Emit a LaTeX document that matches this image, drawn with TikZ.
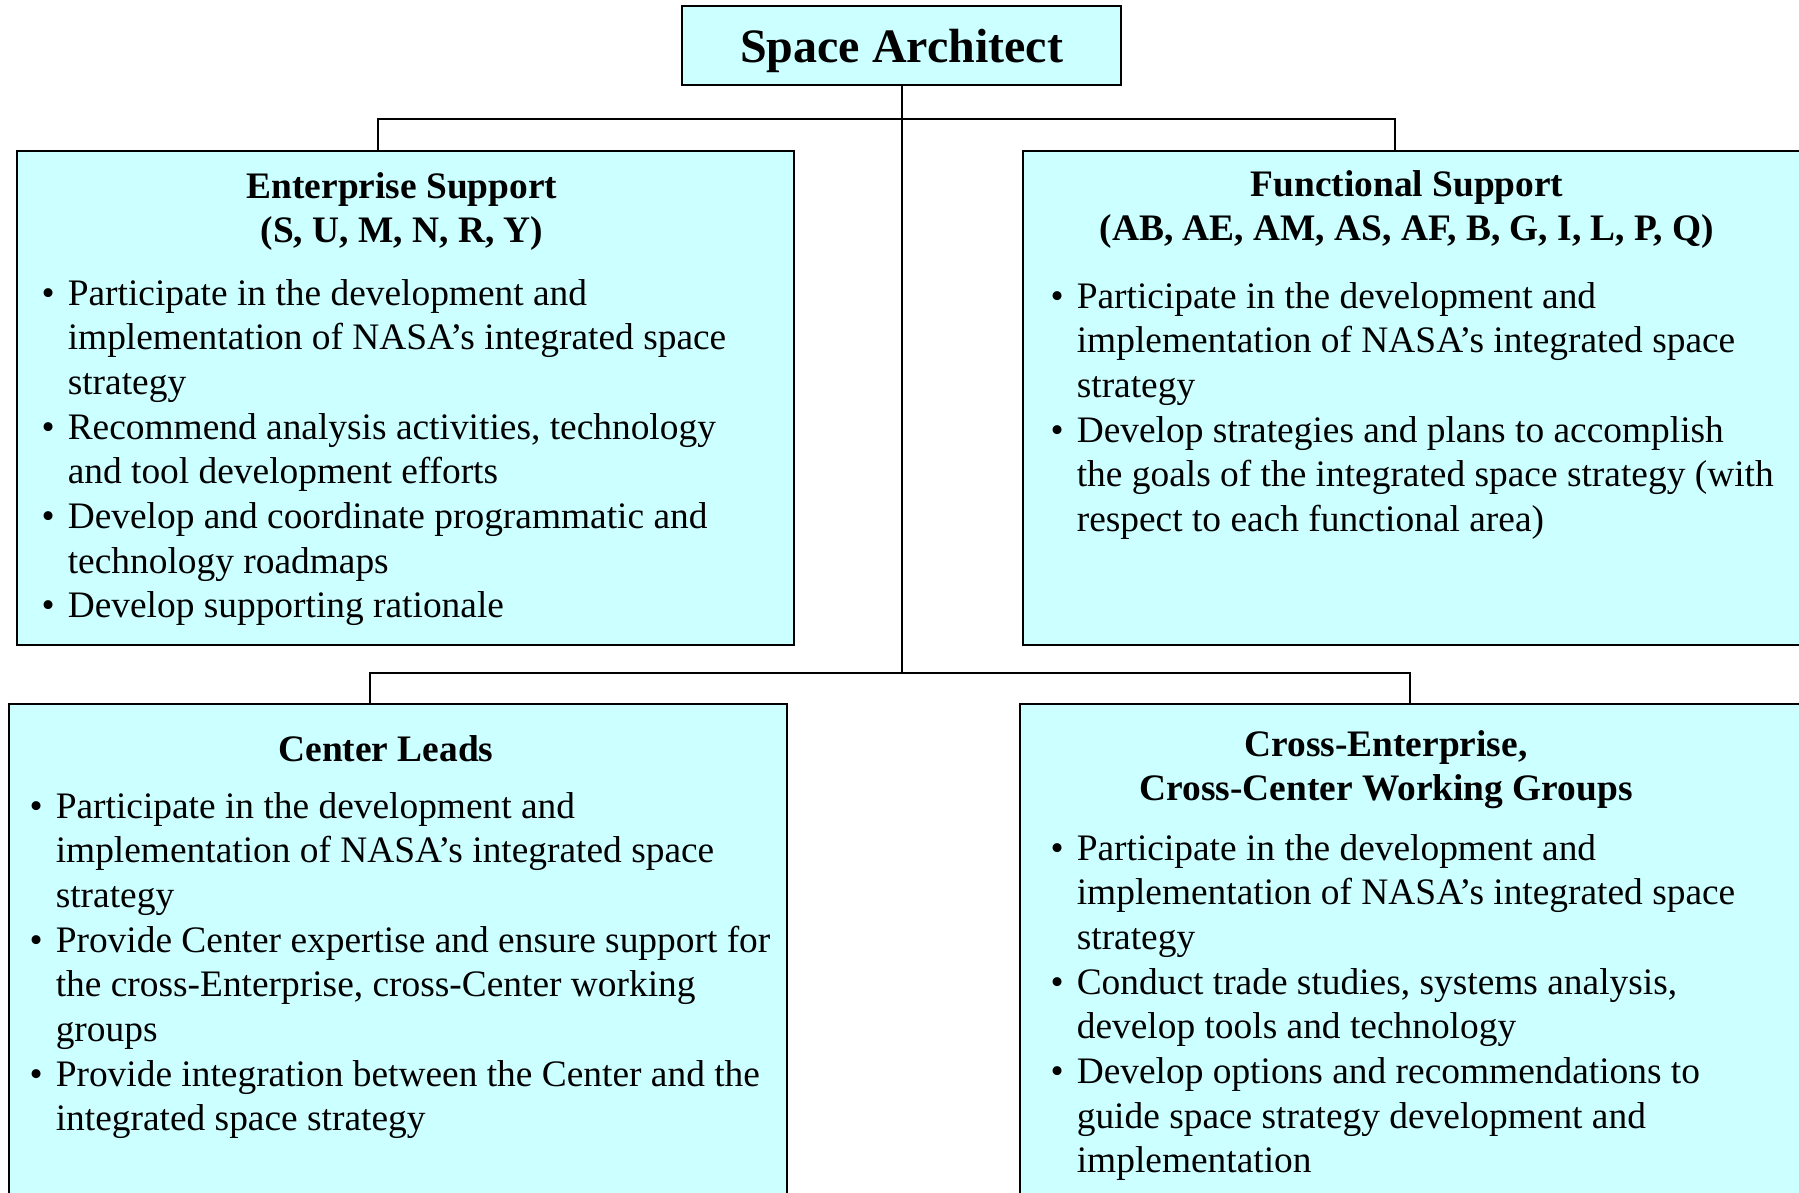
\documentclass[tikz,border=0pt]{standalone}
\usepackage{fontspec}
\setmainfont{Liberation Serif}
\usepackage{xcolor}
\definecolor{boxcyan}{HTML}{CCFFFF}

\begin{document}
\begin{tikzpicture}[x=1pt, y=-1pt,
	box_style/.style={
	    rectangle,
	    draw=black,
	    fill=boxcyan,
	    line width=2pt,
	    anchor=north west,
	    inner sep=0pt
	    },
	head_style/.style={
	    font=\fontsize{37.4}{44.5}\selectfont\bfseries,
	    anchor=base, inner sep=0pt
	    },
	list_style/.style={
	    font=\fontsize{37.4}{44.7}\selectfont,
	    anchor=base west, inner sep=0pt
	    },
	link_style/.style={
	    draw=black, line width=2pt
	    }
	]
	\useasboundingbox (0,0) rectangle (1799,1192);
	\clip (0,0) rectangle (1799,1192);

	% all the boxes
	\node[box_style, minimum width=439pt, minimum height=79pt, text depth=0pt,
	    font=\fontsize{48}{56}\selectfont\bfseries, anchor=center] (arch) at (901.5,45.5) {Space Architect};
	\node[box_style, minimum width=777pt, minimum height=494pt] (ent) at (16,150) {};
	\node[box_style, minimum width=781pt, minimum height=494pt] (fun) at (1022,150) {};
	\node[box_style, minimum width=778pt, minimum height=500pt] (cl) at (8,703) {};
	\node[box_style, minimum width=784pt, minimum height=500pt] (cross) at (1019,703) {};

	% headings
	\node[head_style] (enthead) at (402,198) {\begin{tabular}[t]{@{}c@{}}Enterprise Support\\(S, U, M, N, R, Y)\end{tabular}};
	\node[head_style] (funhead) at (1407,196) {\begin{tabular}[t]{@{}c@{}}Functional Support\\(AB, AE, AM, AS, AF, B, G, I, L, P, Q)\end{tabular}};
	\node[head_style] (clhead) at (386,761) {Center Leads};
	\node[head_style] (crosshead) at (1386,756) {\begin{tabular}[t]{@{}c@{}}Cross-Enterprise,\\Cross-Center Working Groups\end{tabular}};

	% bullet lists
	\node[list_style] (entlist) at (41.5,305) {\begin{tabular}[t]{@{}l@{\hspace{13pt}}l@{}}
	    \textbullet & Participate in the development and\\
	    & implementation of NASA’s integrated space\\
	    & strategy\\
	    \textbullet & Recommend analysis activities, technology\\
	    & and tool development efforts\\
	    \textbullet & Develop and coordinate programmatic and\\
	    & technology roadmaps\\
	    \textbullet & Develop supporting rationale
	    \end{tabular}};
	\node[list_style] (funlist) at (1050.5,308) {\begin{tabular}[t]{@{}l@{\hspace{13pt}}l@{}}
	    \textbullet & Participate in the development and\\
	    & implementation of NASA’s integrated space\\
	    & strategy\\
	    \textbullet & Develop strategies and plans to accomplish\\
	    & the goals of the integrated space strategy (with\\
	    & respect to each functional area)
	    \end{tabular}};
	\node[list_style] (cllist) at (29.5,818) {\begin{tabular}[t]{@{}l@{\hspace{13pt}}l@{}}
	    \textbullet & Participate in the development and\\
	    & implementation of NASA’s integrated space\\
	    & strategy\\
	    \textbullet & Provide Center expertise and ensure support for\\
	    & the cross-Enterprise, cross-Center working\\
	    & groups\\
	    \textbullet & Provide integration between the Center and the\\
	    & integrated space strategy
	    \end{tabular}};
	\node[list_style] (crosslist) at (1050.5,860) {\begin{tabular}[t]{@{}l@{\hspace{13pt}}l@{}}
	    \textbullet & Participate in the development and\\
	    & implementation of NASA’s integrated space\\
	    & strategy\\
	    \textbullet & Conduct trade studies, systems analysis,\\
	    & develop tools and technology\\
	    \textbullet & Develop options and recommendations to\\
	    & guide space strategy development and\\
	    & implementation
	    \end{tabular}};

	% connectors
	\coordinate (topbar) at (901.5,119);
	\coordinate (lowbar) at (901.5,673);
	\draw[link_style] (arch.south) -- (lowbar);
	\draw[link_style] ([xshift=-27.5pt]ent.north) |- (topbar) -| ([xshift=-18.5pt]fun.north);
	\draw[link_style] ([xshift=-28pt]cl.north) |- (lowbar) -| ([xshift=-2pt]cross.north);
\end{tikzpicture}
\end{document}
